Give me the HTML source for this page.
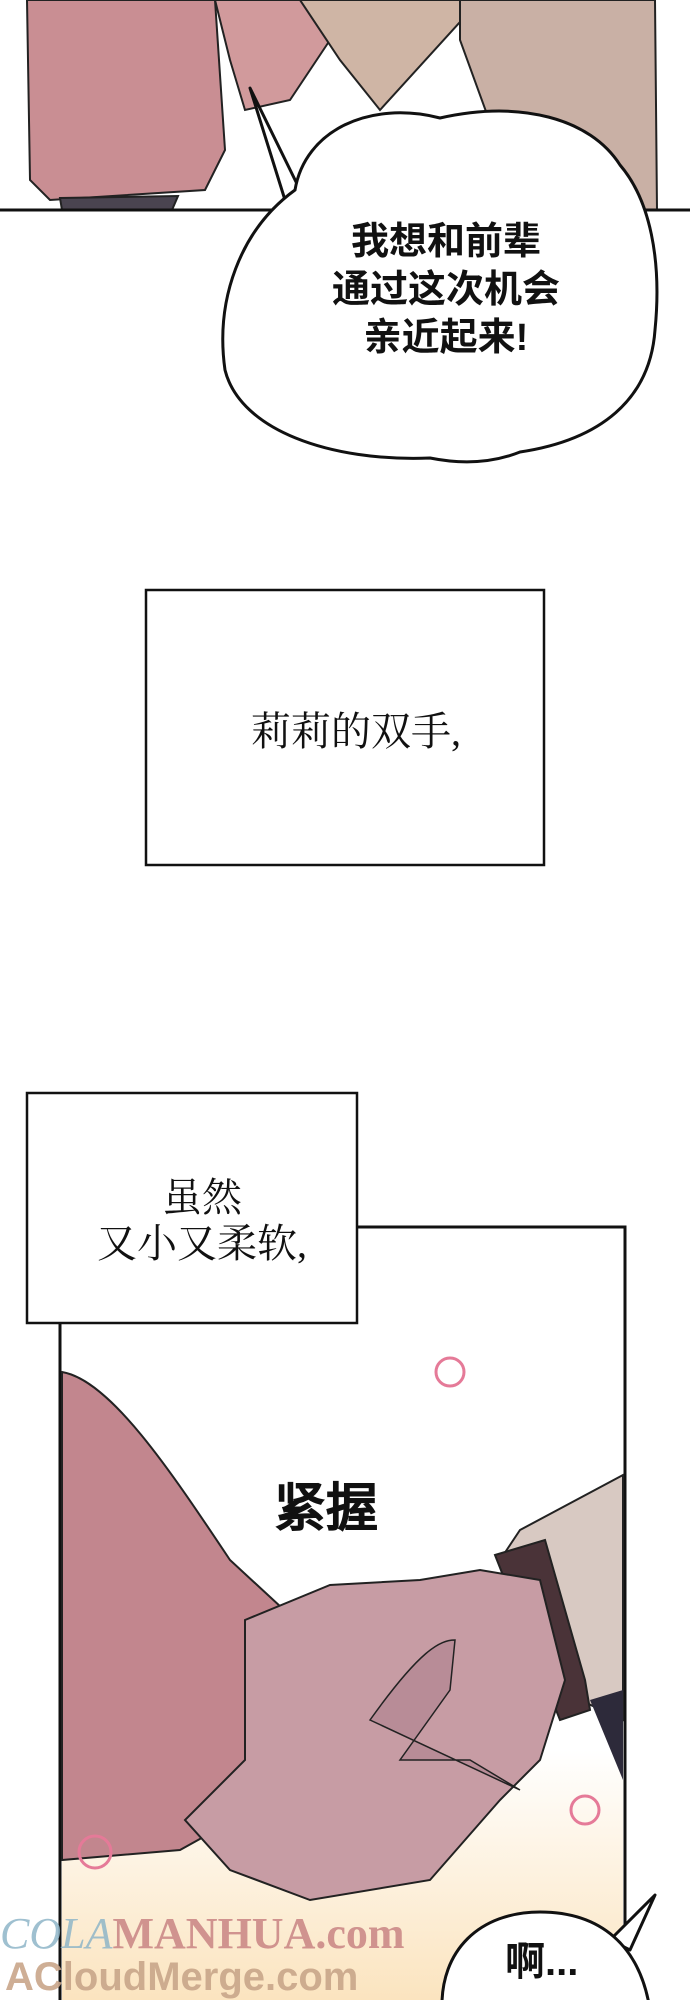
<!DOCTYPE html>
<html><head><meta charset="utf-8">
<style>
html,body{margin:0;padding:0;background:#fff;}
body{width:690px;height:2000px;position:relative;overflow:hidden;}
svg{position:absolute;left:0;top:0;}
.t{position:absolute;white-space:nowrap;text-align:center;color:#111;}
.b{font-family:"Liberation Sans","Noto Sans CJK SC",sans-serif;font-weight:bold;font-size:38px;line-height:48px;}
.s{font-family:"Liberation Serif","Noto Serif CJK SC",serif;font-size:40px;line-height:46px;}
</style></head><body>
<svg width="690" height="2000" viewBox="0 0 690 2000">
  <defs>
    <linearGradient id="yel" x1="0" y1="0" x2="0" y2="1">
      <stop offset="0" stop-color="#fff"/><stop offset="1" stop-color="#fbe4bf"/>
    </linearGradient>
  </defs>
  <path d="M27 0 L215 0 L225 150 L205 190 L50 200 L30 180 Z" fill="#c98e93" stroke="#222" stroke-width="2"/>
  <path d="M60 198 L178 196 L172 210 L62 210 Z" fill="#4a4450" stroke="#222" stroke-width="2"/>
  <path d="M215 0 L320 0 L330 40 L290 100 L245 110 L230 60 Z" fill="#d19a9c" stroke="#222" stroke-width="2"/>
  <path d="M300 0 L480 0 L380 110 L340 60 Z" fill="#cfb5a5" stroke="#222" stroke-width="2"/>
  <path d="M460 0 L655 0 L657 210 L560 210 L500 150 L460 40 Z" fill="#c9b0a5" stroke="#222" stroke-width="2"/>
  <line x1="0" y1="210" x2="690" y2="210" stroke="#111" stroke-width="3"/>
  <path d="M250 88 L300 190 L285 200 Z" fill="#fff" stroke="#111" stroke-width="3" stroke-linejoin="round"/>
  <path d="M440 118 C370 100 305 130 295 190 C240 230 215 300 225 370 C240 430 330 462 430 458 C470 466 500 460 520 452 C600 440 650 400 655 330 C662 260 650 200 620 165 C590 118 520 100 440 118 Z" fill="#fff" stroke="#111" stroke-width="3"/>
  <rect x="146" y="590" width="398" height="275" fill="#fff" stroke="#111" stroke-width="2.5"/>
  <rect x="60" y="1227" width="565" height="800" fill="#fff" stroke="#111" stroke-width="3"/>
  <rect x="62" y="1750" width="561" height="250" fill="url(#yel)"/>
  <path d="M62 1372 C110 1380 170 1470 230 1560 L295 1620 L270 1800 L180 1850 L62 1860 Z" fill="#c2868e" stroke="#222" stroke-width="2"/>
  <path d="M623 1475 L520 1530 L500 1560 L580 1700 L623 1720 Z" fill="#d8c9c2" stroke="#222" stroke-width="2"/>
  <path d="M495 1555 L545 1540 L585 1680 L590 1710 L560 1720 Z" fill="#4a3338" stroke="#222" stroke-width="2"/>
  <path d="M590 1700 L623 1690 L623 1780 Z" fill="#2d2a3a"/>
  <path d="M245 1620 L330 1585 L420 1580 L480 1570 L540 1580 L565 1680 L540 1760 L500 1800 L430 1880 L310 1900 L230 1870 L185 1820 L245 1760 Z" fill="#c79ca4" stroke="#222" stroke-width="2"/>
  <path d="M370 1720 C420 1650 440 1640 455 1640 L450 1690 L400 1760 L470 1760 L520 1790 Z" fill="#b88c97" stroke="#222" stroke-width="1.5"/>
  <g fill="none" stroke="#e57a98" stroke-width="3">
    <circle cx="450" cy="1372" r="14"/><circle cx="585" cy="1810" r="14"/><circle cx="95" cy="1852" r="16"/>
  </g>
  <rect x="27" y="1093" width="330" height="230" fill="#fff" stroke="#111" stroke-width="2.5"/>
  <path d="M655 1895 L610 1940 L630 1950 Z" fill="#fff" stroke="#111" stroke-width="3" stroke-linejoin="round"/>
  <path d="M442 2010 C440 1950 480 1912 540 1912 C600 1912 640 1945 650 2010 Z" fill="#fff" stroke="#111" stroke-width="3"/>
</svg>
<div class="t b" style="left:296px;top:218px;width:300px;">我想和前辈<br>通过这次机会<br>亲近起来!</div>
<div class="t s" style="left:146px;top:709px;width:420px;">莉莉的双手,</div>
<div class="t s" style="left:37px;top:1175px;width:330px;">虽然<br>又小又柔软,</div>
<div class="t" style="left:274px;top:1466px;font-family:'Noto Sans CJK SC',sans-serif;font-size:52px;color:#111;-webkit-text-stroke:2px #111;">紧握</div>
<div class="t" style="left:0px;top:1908px;font-family:'Liberation Serif',serif;font-size:44px;font-weight:bold;color:#c98484;opacity:0.85;"><span style="color:#8fb6c8;font-style:italic;font-weight:normal;">COLA</span>MANHUA.com</div>
<div class="t" style="left:5px;top:1955px;font-family:'Liberation Sans',sans-serif;font-size:40px;font-weight:bold;color:#c9a68a;opacity:0.9;">ACloudMerge.com</div>
<div class="t b" style="left:505px;top:1938px;font-size:40px;">啊...</div>
</body></html>
